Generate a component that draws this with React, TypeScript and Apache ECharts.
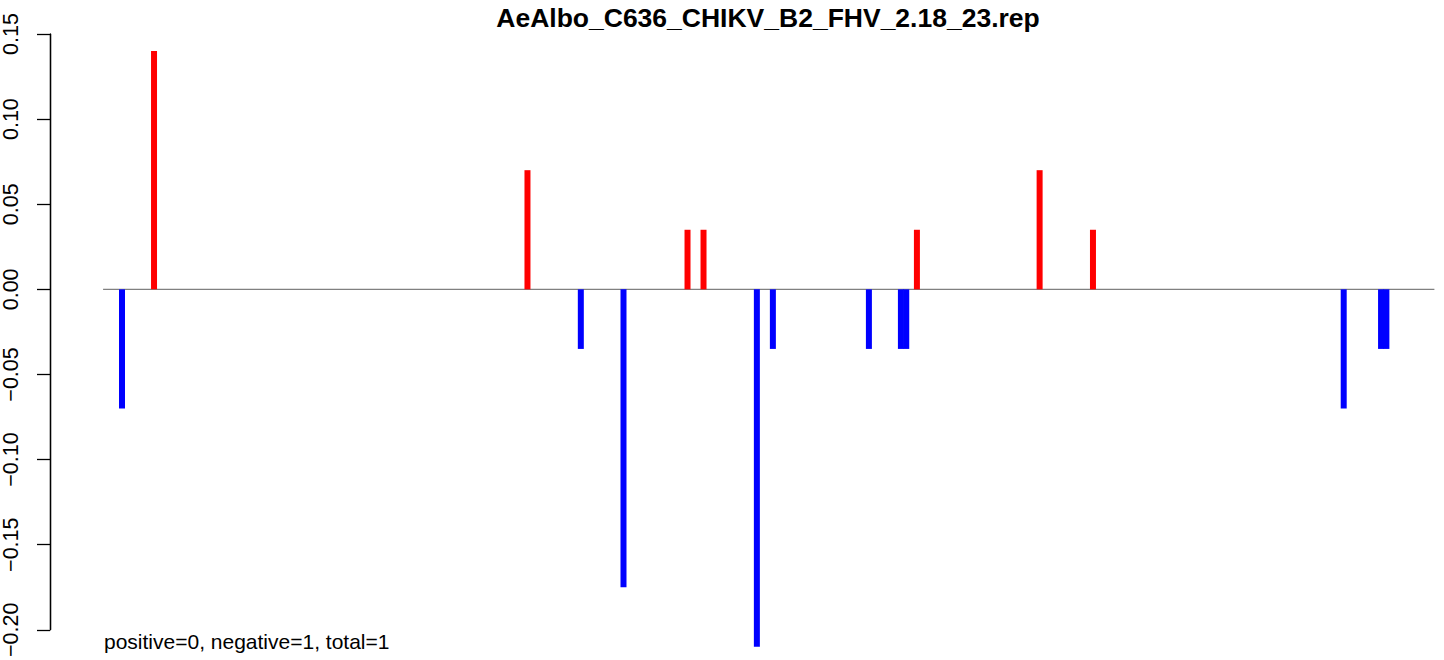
import React, { useEffect, useRef } from "react";
import * as echarts from "echarts";

const TITLE = "AeAlbo_C636_CHIKV_B2_FHV_2.18_23.rep";
const NOTE = "positive=0, negative=1, total=1";

const positions = [4, 10, 80, 90, 98, 110, 113, 123, 126, 144, 150, 151, 153, 176, 186, 233, 240, 241];
const values = [-0.07, 0.14, 0.07, -0.035, -0.175, 0.035, 0.035, -0.21, -0.035, -0.035, -0.035, -0.035, 0.035, 0.07, 0.035, -0.07, -0.035, -0.035];
const baselineRange = [0.45, 250];
const xRange = { min: -9.5, max: 251.05 };
const yTicks = { min: -0.2, max: 0.15, interval: 0.05 };

const FONT = '"Liberation Sans", Arial, Helvetica, sans-serif';

export default function App() {
  const ref = useRef<HTMLDivElement>(null);
  useEffect(() => {
    const chart = echarts.init(ref.current!, undefined, { renderer: "svg" });
    const barData = positions.map((p, i) => [p, values[i]]);
    chart.setOption({
      animation: false,
      backgroundColor: "#ffffff",
      grid: { left: 50, top: 34, width: 1390, height: 600, containLabel: false },
      xAxis: {
        type: "value",
        min: xRange.min,
        max: xRange.max,
        show: false,
      },
      yAxis: {
        type: "value",
        min: yTicks.min,
        max: yTicks.max,
        interval: yTicks.interval,
        axisLine: { show: true, onZero: false, lineStyle: { color: "#000", width: 1.3 } },
        axisTick: { show: true, length: 13, lineStyle: { color: "#000", width: 1.3 } },
        splitLine: { show: false },
        axisLabel: {
          rotate: 90,
          margin: 28,
          fontFamily: FONT,
          fontSize: 21.5,
          color: "#000",
          formatter: (v: number) => (v < 0 ? "\u2212" + Math.abs(v).toFixed(2) : v.toFixed(2)),
        },
      },
      series: [
        {
          type: "line",
          data: baselineRange.map((x) => [x, 0]),
          symbol: "none",
          lineStyle: { color: "#808080", width: 1.3 },
          z: 1,
          silent: true,
          markLine: {
            silent: true,
            symbol: "none",
            label: { show: false },
            lineStyle: { color: "#000", width: 1.3, type: "solid" },
            data: [{ xAxis: xRange.min }],
          },
        },
        {
          type: "bar",
          data: barData,
          barWidth: 6,
          clip: false,
          z: 2,
          itemStyle: {
            color: (p: any) => (p.value[1] >= 0 ? "#ff0000" : "#0000ff"),
          },
        },
      ],
      graphic: [
        {
          type: "text",
          x: 768,
          y: 18,
          style: {
            text: TITLE,
            font: `bold 26.5px ${FONT}`,
            fill: "#000",
            textAlign: "center",
            textVerticalAlign: "middle",
          },
        },
        {
          type: "text",
          x: 104,
          y: 641,
          style: {
            text: NOTE,
            font: `21px ${FONT}`,
            fill: "#000",
            textAlign: "left",
            textVerticalAlign: "middle",
          },
        },
      ],
    });
    return () => chart.dispose();
  }, []);
  return (
    <div
      ref={ref}
      style={{ position: "absolute", left: 0, top: 0, width: 1444, height: 660 }}
    />
  );
}
